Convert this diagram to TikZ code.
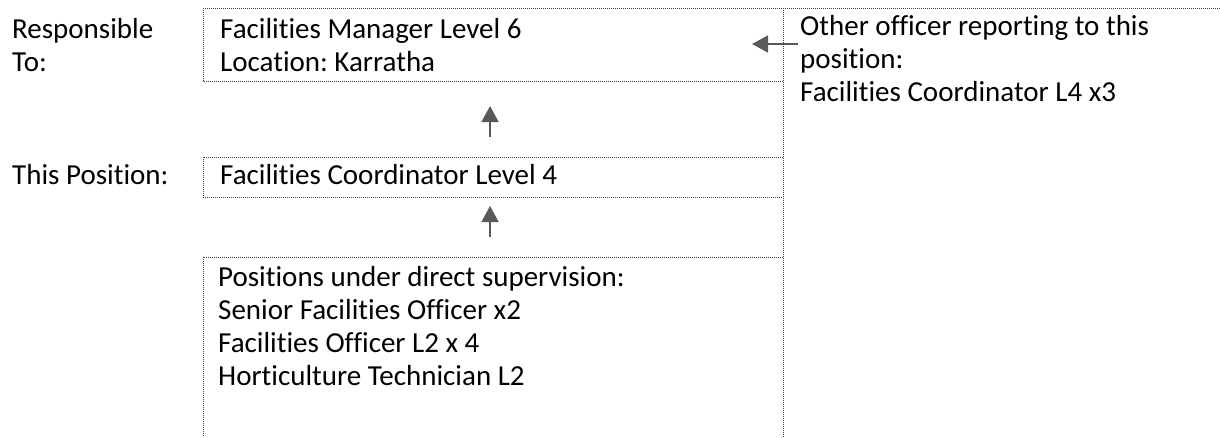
\documentclass[tikz,border=0pt]{standalone}
\usepackage{fontspec}
\setmainfont{Carlito}[RawFeature=-liga]
\usetikzlibrary{arrows.meta}
\begin{document}
\frenchspacing
\begin{tikzpicture}[x=1pt,y=-1pt,
  dotline/.style={black!75,line width=0.9pt,dash pattern=on 1pt off 1pt},
  lbl/.style={anchor=base west,inner sep=0pt,align=left,font=\frenchspacing\fontsize{29}{33}\selectfont},
  arr/.style={draw=black!65,fill=black!65,line width=1.6pt,-{Triangle[length=16pt,width=17pt]}}]
\useasboundingbox (0,0) rectangle (1220,437);
% frame lines
\draw[dotline] (203,8) -- (1220,8);
\draw[dotline] (783,8) -- (783,437);
\draw[dotline] (203,8) -- (203,81) -- (783,81);
\draw[dotline] (783,157) -- (203,157) -- (203,197) -- (783,197);
\draw[dotline] (783,257) -- (203,257) -- (203,437);
% left column labels (anchor = baseline of last line)
\node[lbl] (resp) at (12,71) {Responsible\\To:};
\node[lbl] (this) at (12,184) {This Position:};
% box texts
\node[lbl] (mgr) at (220,71) {Facilities Manager Level 6\\Location: Karratha};
\node[lbl] (pos) at (220,184) {Facilities Coordinator Level 4};
\node[lbl] (sub) at (218,385) {Positions under direct supervision:\\Senior Facilities Officer x2\\Facilities Officer L2 x 4\\Horticulture Technician L2};
\node[lbl] (other) at (800,101) {Other officer reporting to this\\position:\\Facilities Coordinator L4 x3};
% arrows
\coordinate (a1s) at (490,137);
\coordinate (a1e) at (490,106);
\coordinate (a2s) at (490,237);
\coordinate (a2e) at (490,206);
\coordinate (a3s) at (798,44);
\coordinate (a3e) at (752,44);
\draw[arr] (a1s) -- (a1e);
\draw[arr] (a2s) -- (a2e);
\draw[arr] (a3s) -- (a3e);
\end{tikzpicture}
\end{document}
